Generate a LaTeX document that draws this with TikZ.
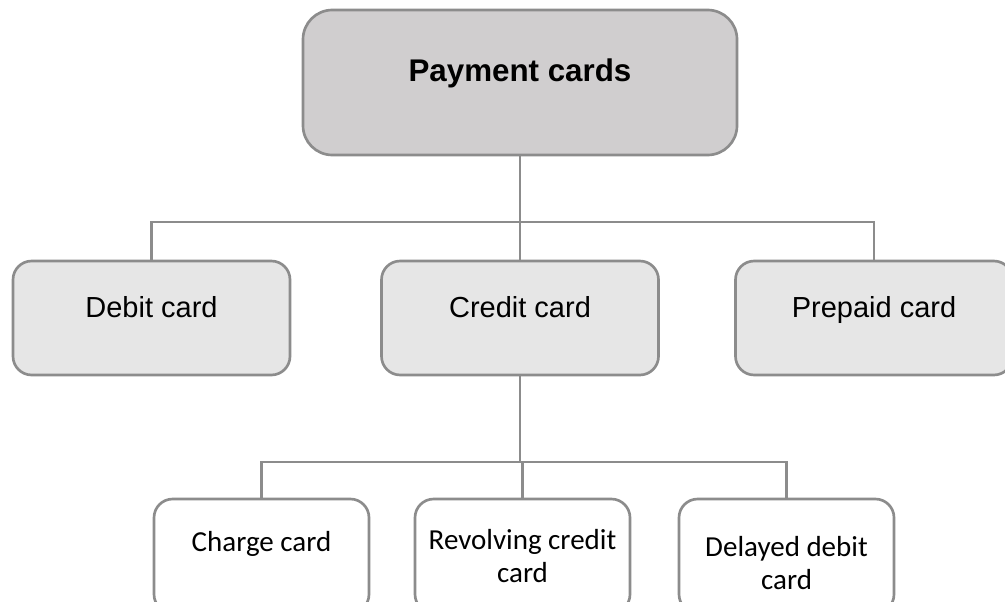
\documentclass[tikz,border=0pt]{standalone}
\usepackage{fontspec}
\setmainfont{Liberation Sans}
\newfontfamily\sublabelfont{Carlito}
\usetikzlibrary{calc}
\definecolor{edgegray}{HTML}{8C8C8C}
\definecolor{rootfill}{HTML}{D0CECF}
\definecolor{midfill}{HTML}{E6E6E6}
\begin{document}
\begin{tikzpicture}[x=0.75pt,y=-0.75pt,
  box/.style={draw=edgegray, line width=2pt, rectangle, inner sep=0pt},
  rootbox/.style={box, fill=rootfill, rounded corners=22pt,
    minimum width=325.5pt, minimum height=108.75pt},
  midbox/.style={box, fill=midfill, rounded corners=14pt,
    minimum width=207.75pt, minimum height=85.5pt},
  leafbox/.style={box, fill=white, rounded corners=14pt,
    minimum width=161.25pt, minimum height=85.5pt},
  roottext/.style={anchor=base, inner sep=0pt,
    font=\fontsize{23.5}{28}\selectfont\bfseries},
  midtext/.style={anchor=base, inner sep=0pt,
    font=\fontsize{21.75}{26}\selectfont},
  leaftext/.style={anchor=base, inner sep=0pt, align=center,
    font=\sublabelfont\fontsize{21.75}{24.5}\selectfont},
  conn/.style={draw=edgegray, line width=2pt}
]
\useasboundingbox (0,0) rectangle (1005,602);
\clip (0,0) rectangle (1005,602);

% top level
\node[rootbox] (root) at (520,82.5) {};
\node[roottext] (rootlbl) at (520,82) {Payment cards};

% second level
\node[midbox] (debit)   at (151.5,318) {};
\node[midbox] (credit)  at (520,318)   {};
\node[midbox] (prepaid) at (874,318)   {};
\node[midtext] (debitlbl)   at (151.5,317) {Debit card};
\node[midtext] (creditlbl)  at (520,317)   {Credit card};
\node[midtext] (prepaidlbl) at (874,317)   {Prepaid card};

% third level (under credit card); two-line labels sit on their last baseline
\node[leafbox] (charge)    at (261.5,556) {};
\node[leafbox] (revolving) at (522.5,556) {};
\node[leafbox] (delayed)   at (786.5,556) {};
\node[leaftext] (chargelbl)    at (261.5,551) {Charge card};
\node[leaftext] (revolvinglbl) at (522.5,582) {Revolving credit\\card};
\node[leaftext] (delayedlbl)   at (786.5,589) {Delayed debit\\card};

% connectors
\coordinate (hubA) at (520,222);
\coordinate (hubB) at (520,462);
\draw[conn] (root.south) -- (hubA);
\draw[conn] (hubA) -| (debit.north);
\draw[conn] (hubA) -| (prepaid.north);
\draw[conn] (hubA) -- (credit.north);
\draw[conn] (credit.south) -- (hubB);
\draw[conn] (hubB) -| (charge.north);
\draw[conn] (hubB) -| (revolving.north);
\draw[conn] (hubB) -| (delayed.north);
\end{tikzpicture}
\end{document}
